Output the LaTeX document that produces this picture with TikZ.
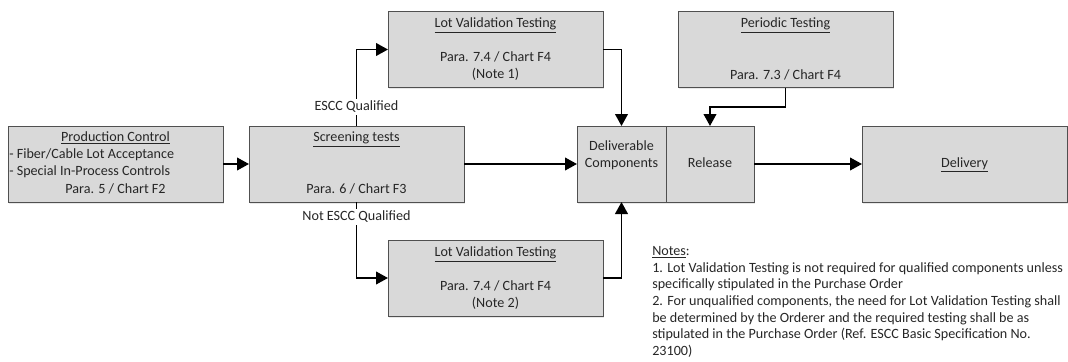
\documentclass[tikz,border=0pt]{standalone}
\usepackage{fontspec}
\setmainfont{Carlito}
\usetikzlibrary{arrows.meta,shadows}
\definecolor{boxfill}{HTML}{D9D9D9}
\definecolor{boxline}{HTML}{505050}
\definecolor{txt}{HTML}{262626}
\begin{document}
\begin{tikzpicture}[x=0.75pt,y=-0.75pt,
 box/.style={draw=boxline, fill=boxfill, line width=0.7pt, inner sep=0pt, outer sep=0pt,
   drop shadow={opacity=0.18, shadow xshift=1pt, shadow yshift=-1.2pt}},
 wbox/.style={box, minimum width=161.25pt, minimum height=57pt},
 lbl/.style={inner sep=0pt, text=txt, font=\fontsize{10.6}{12.4}\selectfont, text height=7.4pt, text depth=2pt},
 conn/.style={line width=1.4pt, draw=black, -{Triangle[length=9pt,width=9.5pt]}},
 onl/.style={lbl, fill=white, inner xsep=1.5pt, inner ysep=1.5pt}]
\useasboundingbox (0,0) rectangle (1068,361);

% boxes
\node[wbox] (prod) at (115.5,164) {};
\node[wbox] (scr) at (356.5,164) {};
\node[wbox] (lvta) at (495.5,49.5) {};
\node[wbox] (per) at (785.5,49.5) {};
\node[wbox] (lvtb) at (495.5,278) {};
\node[box, minimum width=66.75pt, minimum height=57pt] (dlv) at (621.5,164) {};
\node[box, minimum width=66pt, minimum height=57pt] (rel) at (710,164) {};
\node[box, minimum width=153.75pt, minimum height=57pt] (delv) at (964.5,164) {};

% box texts
\node[lbl] (prodt) at (115.5,138) {\underline{Production Control}};
\node[lbl, anchor=west] (prodb1) at (9,155) {- Fiber/Cable Lot Acceptance};
\node[lbl, anchor=west] (prodb2) at (9,172) {- Special In-Process Controls};
\node[lbl] (prodp) at (115.5,190) {Para. 5 / Chart F2};

\node[lbl] (scrt) at (356.5,138) {\underline{Screening tests}};
\node[lbl] (scrp) at (356.5,190) {Para. 6 / Chart F3};

\node[lbl] (lvtat) at (495.5,24) {\underline{Lot Validation Testing}};
\node[lbl] (lvtap) at (495.5,58) {Para. 7.4 / Chart F4};
\node[lbl] (lvtan) at (495.5,75) {(Note 1)};

\node[lbl] (pert) at (785.5,24) {\underline{Periodic Testing}};
\node[lbl] (perp) at (785.5,76) {Para. 7.3 / Chart F4};

\node[lbl] (lvtbt) at (495.5,253) {\underline{Lot Validation Testing}};
\node[lbl] (lvtbp) at (495.5,287) {Para. 7.4 / Chart F4};
\node[lbl] (lvtbn) at (495.5,304) {(Note 2)};

\node[lbl] (dlvt1) at (621.5,147) {Deliverable};
\node[lbl] (dlvt2) at (621.5,164) {Components};
\node[lbl] (relt) at (710,164) {Release};
\node[lbl] (delvt) at (964.5,164) {\underline{Delivery}};

% connectors
\coordinate (perbend) at (785.5,107);
\draw[conn] (prod.east) -- (scr.west);
\draw[conn] (scr.north) |- (lvta.west);
\draw[conn] (scr.south) |- (lvtb.west);
\draw[conn] (scr.east) -- (dlv.west);
\draw[conn] (lvta.east) -| (dlv.north);
\draw[conn] (lvtb.east) -| (dlv.south);
\draw[conn] (per.south) -- (perbend) -| (rel.north);
\draw[conn] (rel.east) -- (delv.west);

% connector labels
\node[onl] (q1) at (356.5,107) {ESCC Qualified};
\node[onl] (q2) at (356.5,217) {Not ESCC Qualified};

% notes
\node[inner sep=0pt, anchor=north west, align=left, text=txt,
      font=\fontsize{10.6}{12.5}\selectfont] (notes) at (652,246)
 {\underline{Notes}:\\
  1. Lot Validation Testing is not required for qualified components unless\\
  specifically stipulated in the Purchase Order\\
  2. For unqualified components, the need for Lot Validation Testing shall\\
  be determined by the Orderer and the required testing shall be as\\
  stipulated in the Purchase Order (Ref. ESCC Basic Specification No.\\
  23100)};
\end{tikzpicture}
\end{document}
